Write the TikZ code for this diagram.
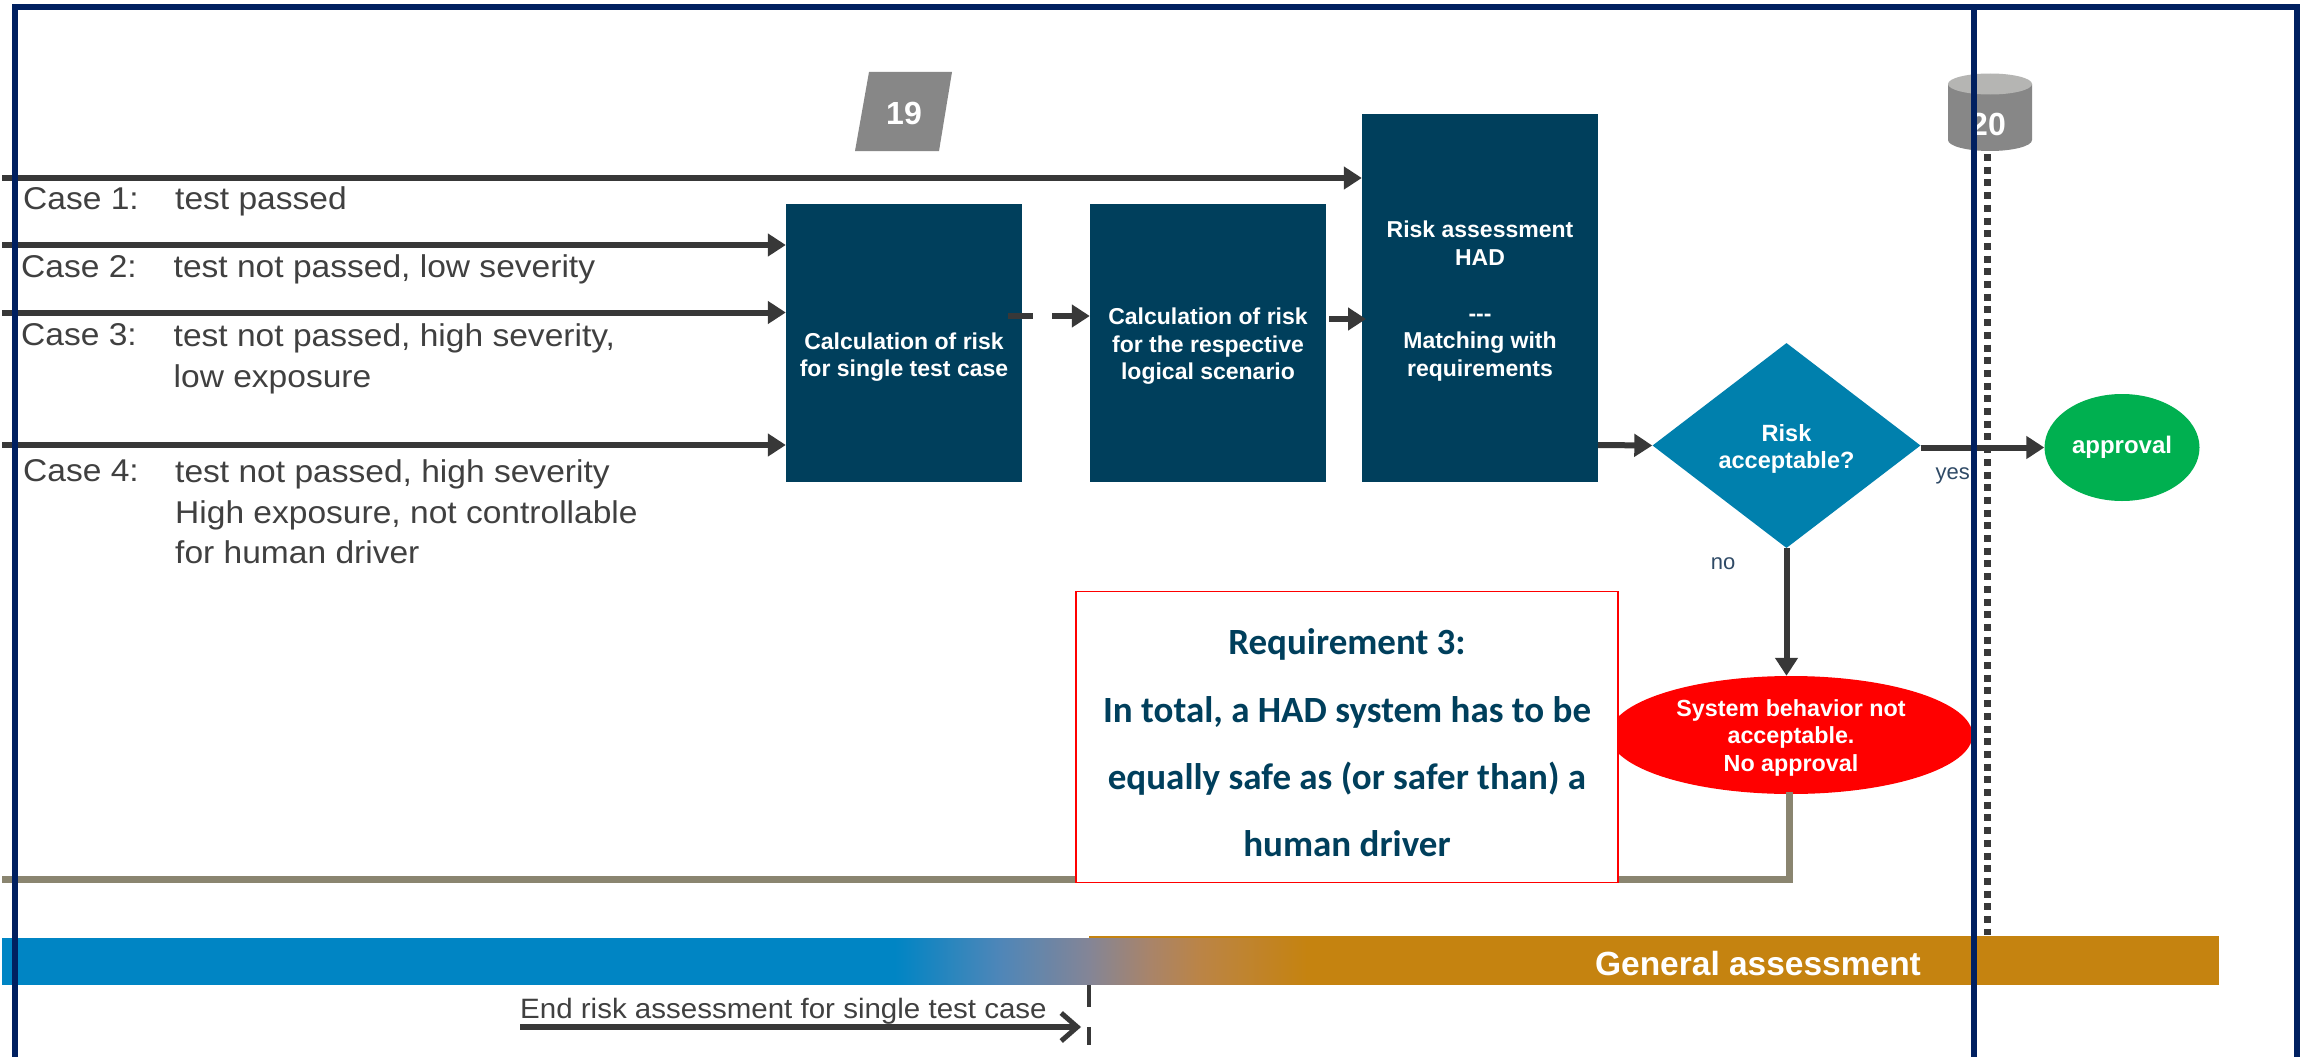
\documentclass[tikz,border=0pt]{standalone}
\usepackage{fontspec}
\setmainfont{Liberation Sans}
\newfontfamily\reqfont{Carlito}
\newfontfamily\casefont[FakeStretch=1.065]{Liberation Sans}
\newfontfamily\endfont[FakeStretch=1.054]{Liberation Sans}
\usetikzlibrary{shapes.geometric,arrows.meta}
\definecolor{navy}{HTML}{002060}
\definecolor{boxblue}{HTML}{003F5C}
\definecolor{diablue}{HTML}{0080AD}
\definecolor{barblue}{HTML}{0085C4}
\definecolor{bargold}{HTML}{C58310}
\definecolor{barA}{HTML}{4F86B8}
\definecolor{barB}{HTML}{848596}
\definecolor{barC}{HTML}{A98469}
\definecolor{barD}{HTML}{BB8446}
\definecolor{arrowgrey}{HTML}{383838}
\definecolor{linegrey}{HTML}{8A8570}
\definecolor{txtgrey}{HTML}{404040}
\definecolor{labblue}{HTML}{2F4A66}
\definecolor{okgreen}{HTML}{00B050}
\definecolor{cylbody}{HTML}{878787}
\definecolor{cyltop}{HTML}{B5B5B3}
\pgfdeclarehorizontalshading{barfade}{100bp}{color(0bp)=(barblue); color(25bp)=(barblue); color(37.8bp)=(barA); color(48.6bp)=(barB); color(56bp)=(barC); color(62bp)=(barD); color(75bp)=(bargold); color(100bp)=(bargold)}
\tikzset{
  x=1pt,y=-1pt,
  flow/.style={draw=arrowgrey,line width=6pt,-{Triangle[length=18pt,width=22pt]}},
  procbox/.style={rectangle,fill=boxblue,text=white,inner sep=0pt,align=center,minimum width=236pt,
    font=\fontsize{23}{27.6}\selectfont\bfseries},
  casetext/.style={inner sep=0pt,text=txtgrey,font=\casefont\fontsize{31.5}{40.5}\selectfont,align=left},
}
\begin{document}
\begin{tikzpicture}
\useasboundingbox (0,0) rectangle (2300,1057);
\fill[white] (0,0) rectangle (2300,1057);
% bar
\fill[barblue] (2,938) rectangle (896,985);
\shade[shading=barfade] (895,938) rectangle (1307,984.2);
\fill[bargold] (1306,938) rectangle (2219,985);
\fill[bargold] (1089,936) rectangle (2219,938);
\node[anchor=base,inner sep=0pt,text=white,font=\fontsize{33.5}{38}\selectfont\bfseries] (gen) at (1758,975) {General assessment};
% boundary marker
\coordinate (markT) at (1089,985);
\coordinate (markB) at (1089,1045);
\draw[arrowgrey,line width=4.5pt,dash pattern=on 22pt off 20pt on 18pt off 20pt] (markT) -- (markB);
\coordinate (endS) at (520,1027);
\coordinate (endE) at (1081,1027);
\draw[arrowgrey,line width=6pt,-{Straight Barb[length=16pt,width=28pt,line width=5pt]}] (endS) -- (endE);
\node[anchor=base west,inner sep=0pt,text=txtgrey,font=\endfont\fontsize{28}{34}\selectfont] (endT) at (520,1018) {End risk assessment for single test case};
% document shape 19
\fill[cylbody] (869,72) -- (952,72) -- (939,151) -- (855,151) -- cycle;
\node[inner sep=0pt,text=white,font=\fontsize{32}{38}\selectfont\bfseries] (n19) at (904,113) {19};
% cylinder 20
\fill[cylbody] (1948,84) -- (1948,140) arc[start angle=180,end angle=360,x radius=42,y radius=-11] -- (2032,84) -- cycle;
\fill[cyltop] (1990,84) ellipse[x radius=42,y radius=10.5];
\node[inner sep=0pt,text=white,font=\fontsize{32}{38}\selectfont\bfseries] (n20) at (1988,124) {20};
% dotted line
\coordinate (dotS) at (1987.5,154);
\coordinate (dotE) at (1987.5,935);
\draw[arrowgrey,line width=7pt,dash pattern=on 7pt off 5.7pt] (dotS) -- (dotE);
% boxes
\node[procbox,minimum height=278pt] (b1) at (904,343) {\rule{0pt}{45pt}Calculation of risk\\for single test case};
\node[procbox,minimum height=278pt] (b2) at (1208,343) {\rule{0pt}{23pt}Calculation of risk\\for the respective\\logical scenario};
\node[procbox,minimum height=368pt] (b3) at (1480,298) {\rule{0pt}{23pt}Risk assessment\\HAD\\[28.5pt]{-}{-}{-}\\Matching with\\requirements};
\node[diamond,fill=diablue,inner sep=0pt,shape aspect=1.307,minimum width=268pt,minimum height=205pt,text=white,align=center,font=\fontsize{23.5}{27.5}\selectfont\bfseries] (dia) at (1786.5,445.5) {\rule{0pt}{24pt}Risk\\acceptable?};
\node[ellipse,fill=okgreen,inner sep=0pt,minimum width=155pt,minimum height=107pt,text=white,font=\fontsize{24}{28}\selectfont\bfseries] (ok) at (2122,447.5) {approval};
\node[ellipse,fill=red,inner sep=0pt,minimum width=363pt,minimum height=118pt,text=white,align=center,font=\fontsize{23.3}{27.5}\selectfont\bfseries] (bad) at (1791,735) {\rule{0pt}{22pt}System behavior not\\acceptable.\\No approval};
% incoming flows
\coordinate (c1) at (2,178);
\coordinate (c2) at (2,245);
\coordinate (c3) at (2,312.5);
\coordinate (c4) at (2,445);
\draw[flow] (c1) -- (c1 -| b3.west);
\draw[flow] (c2) -- (c2 -| b1.west);
\draw[flow] (c3) -- (c3 -| b1.west);
\draw[flow] (c4) -- (c4 -| b1.west);
% internal flows
\coordinate (d1) at (1008,316);
\draw[flow,dash pattern=on 25pt off 19pt on 100pt] (d1) -- (d1 -| b2.west);
\coordinate (d2) at (1329,319);
\coordinate (d2e) at (1366,319);
\draw[flow] (d2) -- (d2e);
\coordinate (d3) at (1598,445);
\draw[flow] (d3) -- (dia.west);
\draw[flow] (dia.east |- ok.west) -- (ok.west);
\draw[flow] (dia.south) -- (dia.south |- bad.north);
% feedback line
\coordinate (fb) at (1789.5,792);
\coordinate (fbEnd) at (2,879);
\draw[linegrey,line width=7pt] (fb) |- (fbEnd);
% requirement box
\node[rectangle,draw=red,fill=white,line width=1.8pt,inner sep=0pt,minimum width=542pt,minimum height=291pt,align=center,text=boxblue,font=\reqfont\fontsize{37}{67.3}\selectfont\bfseries] (req) at (1347,737) {\rule{0pt}{38pt}Requirement 3:\\In total, a HAD system has to be\\equally safe as (or safer than) a\\human driver};
% labels
\node[inner sep=0pt,text=labblue,font=\fontsize{22}{26}\selectfont] (yes) at (1952.7,476) {yes};
\node[inner sep=0pt,text=labblue,font=\fontsize{22}{26}\selectfont] (no) at (1723,564) {no};
% case texts
\node[casetext,anchor=base west] (k1) at (23,209) {Case 1:};
\node[casetext,anchor=base west] (t1) at (175,209) {test passed};
\node[casetext,anchor=base west] (k2) at (21,277.5) {Case 2:};
\node[casetext,anchor=base west] (t2) at (173.5,277.5) {test not passed, low severity};
\node[casetext,anchor=base west] (k3) at (21,345.6) {Case 3:};
\node[casetext,anchor=north west] (t3) at (173.5,323.5) {test not passed, high severity,\\low exposure};
\node[casetext,anchor=base west] (k4) at (23,481.4) {Case 4:};
\node[casetext,anchor=north west] (t4) at (175,459.5) {test not passed, high severity\\High exposure, not controllable\\for human driver};
% frame
\draw[navy,line width=5.5pt] (15,1057) -- (15,7) -- (2297,7) -- (2297,1057);
\coordinate (vT) at (1974,7);
\coordinate (vB) at (1974,1057);
\draw[navy,line width=6pt] (vT) -- (vB);
\end{tikzpicture}
\end{document}
